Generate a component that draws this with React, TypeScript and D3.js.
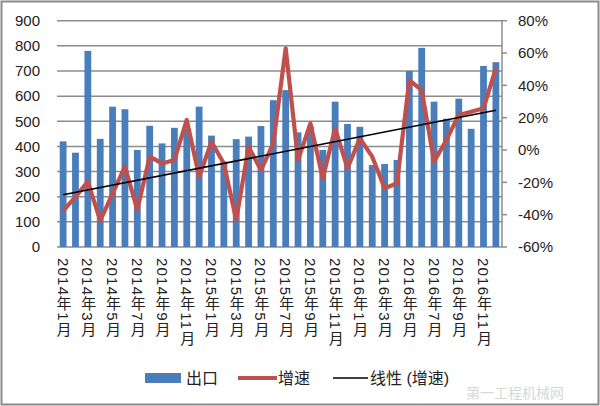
import React from "react";
import * as d3 from "d3";

const categories = [
  "2014年1月","2014年2月","2014年3月","2014年4月","2014年5月","2014年6月",
  "2014年7月","2014年8月","2014年9月","2014年10月","2014年11月","2014年12月",
  "2015年1月","2015年2月","2015年3月","2015年4月","2015年5月","2015年6月",
  "2015年7月","2015年8月","2015年9月","2015年10月","2015年11月","2015年12月",
  "2016年1月","2016年2月","2016年3月","2016年4月","2016年5月","2016年6月",
  "2016年7月","2016年8月","2016年9月","2016年10月","2016年11月","2016年12月",
];

const exportsVal = [
  420, 375, 780, 430, 558, 548, 386, 482, 412, 474, 470, 558,
  443, 340, 429, 439, 481, 584, 624, 456, 480, 386, 578, 489,
  478, 326, 330, 346, 700, 792, 578, 510, 590, 470, 720, 735,
];

const growth = [
  -37.6, -29, -19.6, -43.7, -27, -10.3, -37, -4.1, -8.3, -6.2, 18.6, -16.5,
  5.1, -8.3, -43.3, 2, -12.4, 4.1, 62.9, -6.2, 16.5, -17.5, 13.4, -11.3,
  7.2, -4.1, -23.7, -20.6, 43.3, 37.1, -7.2, 6.2, 21.7, 23.7, 25.8, 50.6,
];

const leftTicks = [0, 100, 200, 300, 400, 500, 600, 700, 800, 900];
const rightTicks = [-60, -40, -20, 0, 20, 40, 60, 80];
const legendLabels = ["出口", "增速", "线性 (增速)"];

const W = 600;
const H = 406;
const X0 = 57;
const X1 = 502;
const YT = 20.7;
const YB = 247;
const FONT = "'Liberation Sans', Arial, 'Noto Sans CJK SC', sans-serif";

export default function App() {
  const x = d3.scaleBand<string>().domain(categories).range([X0, X1]).paddingInner(0.45).paddingOuter(0.22);
  const yL = d3.scaleLinear().domain([0, 900]).range([YB, YT]);
  const yR = d3.scaleLinear().domain([-60, 80]).range([YB, YT]);
  const cx = (c: string) => (x(c) as number) + x.bandwidth() / 2;

  const line = d3
    .line<number>()
    .x((_, i) => cx(categories[i]))
    .y((d) => yR(d));

  // linear regression trend
  const n = growth.length;
  const idx = growth.map((_, i) => i + 1);
  const mx = d3.mean(idx) as number;
  const my = d3.mean(growth) as number;
  const sxy = d3.sum(idx.map((v, i) => (v - mx) * (growth[i] - my)));
  const sxx = d3.sum(idx.map((v) => (v - mx) * (v - mx)));
  const slope = sxy / sxx;
  const icpt = my - slope * mx;
  const trend = [1, n].map((v) => ({ x: cx(categories[v - 1]), y: yR(icpt + slope * v) }));

  return (
    <svg width={W} height={H} style={{ position: "absolute", left: 0, top: 0, background: "#fff" }} fontFamily={FONT}>
      <rect x={1.5} y={1.5} width={W - 3} height={H - 3} fill="#fff" stroke="#8a8a8a" strokeWidth={2} />
      {leftTicks.map((t) => (
        <g key={t}>
          <line x1={X0} x2={X1} y1={yL(t)} y2={yL(t)} stroke="#8c8c8c" strokeWidth={1.5} />
          <text x={40} y={yL(t)} dy="0.35em" textAnchor="end" fontSize={15} fill="#222">
            {t}
          </text>
        </g>
      ))}
      {categories.map((c, i) => (
        <rect
          key={c}
          x={x(c)}
          y={yL(exportsVal[i])}
          width={x.bandwidth()}
          height={yL(0) - yL(exportsVal[i])}
          fill="#4a7ebb"
        />
      ))}
      <line x1={X1} x2={X1} y1={YT} y2={YB} stroke="#8c8c8c" strokeWidth={1.5} />
      {rightTicks.map((t) => (
        <g key={t}>
          <line x1={X1} x2={X1 + 5} y1={yR(t)} y2={yR(t)} stroke="#8c8c8c" strokeWidth={1.5} />
          <text x={518} y={yR(t)} dy="0.35em" textAnchor="start" fontSize={15} fill="#222">
            {t}%
          </text>
        </g>
      ))}
      <path d={line(growth) || ""} fill="none" stroke="#c0504d" strokeWidth={4.2} strokeLinejoin="round" />
      <line x1={trend[0].x} y1={trend[0].y} x2={trend[1].x} y2={trend[1].y} stroke="#000" strokeWidth={1.6} />
      {categories.map((c, i) =>
        i % 2 === 0 ? (
          <text
            key={c}
            x={cx(c)}
            y={258}
            style={{ writingMode: "vertical-rl", textOrientation: "mixed" } as any}
            textAnchor="start"
            fontSize={15}
            letterSpacing={1.2}
            fill="#222"
          >
            {c}
          </text>
        ) : null
      )}
      <g fontSize={16} fill="#222">
        <rect x={145} y={373} width={36} height={10} fill="#4a7ebb" />
        <text x={186} y={378} dy="0.35em">{legendLabels[0]}</text>
        <line x1={238} x2={277} y1={378} y2={378} stroke="#c0504d" strokeWidth={4} />
        <text x={278} y={378} dy="0.35em">{legendLabels[1]}</text>
        <line x1={333} x2={368} y1={378} y2={378} stroke="#000" strokeWidth={1.6} />
        <text x={370} y={378} dy="0.35em">{legendLabels[2]}</text>
      </g>
      <text x={466} y={398} fontSize={14} fill="#d8d8d8">第一工程机械网</text>
    </svg>
  );
}
